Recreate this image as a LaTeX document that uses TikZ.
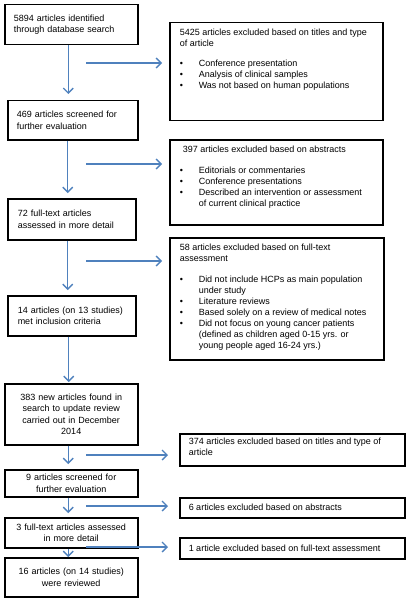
\documentclass[tikz,border=0pt]{standalone}
\usepackage{fontspec}
\setmainfont{Liberation Sans}
\usetikzlibrary{arrows.meta}

\definecolor{flowblue}{RGB}{79,129,189}
\newcommand{\bitem}[1]{\par\hangindent=19pt\hangafter=1\noindent\makebox[19pt][l]{\small\textbullet}#1}

\begin{document}
\begin{tikzpicture}[x=1pt, y=-1pt,
    stage/.style={draw, line width=1.5pt, anchor=north west, inner xsep=9pt, inner ysep=0pt,
      align=left, font=\fontsize{9}{11.5}\selectfont},
    excl/.style={draw, line width=1.5pt, anchor=north west, inner xsep=10pt, inner ysep=6pt,
      font=\fontsize{9}{11}\selectfont},
    flow/.style={draw=flowblue, line width=1.3pt, -{Straight Barb[length=5pt, width=10pt]}}]

        \useasboundingbox (0,0) rectangle (408,599);

        %Search
        \node [stage, minimum width=133pt, minimum height=40pt, text width=115pt] (b1) at (4,4)
          {5894 articles identified\\through database search};
        \node [stage, minimum width=130pt, minimum height=39pt, text width=112pt] (b2) at (7,100)
          {469 articles screened for\\further evaluation};
        \node [stage, minimum width=128pt, minimum height=41pt, text width=108pt, inner xsep=10pt] (b3) at (7,198)
          {72 full-text articles\\assessed in more detail};
        \node [stage, minimum width=128pt, minimum height=40pt, text width=108pt, inner xsep=10pt] (b4) at (7,295)
          {14 articles (on 13 studies)\\met inclusion criteria};

        %Update
        \node [stage, minimum width=133pt, minimum height=61pt, text width=115pt, align=center] (b5) at (4,383)
          {383 new articles found in\\search to update review\\carried out in December\\2014};
        \node [stage, minimum width=133pt, minimum height=27pt, text width=115pt, align=center] (b6) at (4,469)
          {9 articles screened for\\further evaluation};
        \node [stage, minimum width=133pt, minimum height=30pt, text width=115pt, align=center] (b7) at (4,517)
          {3 full-text articles assessed\\in more detail};
        \node [stage, minimum width=133pt, minimum height=39pt, text width=115pt, align=center] (b8) at (4,557)
          {16 articles (on 14 studies)\\were reviewed};

        %Excluded
        \node [excl] (e1) at (169,22) {\parbox[c][86pt][t]{193pt}{\raggedright
          5425 articles excluded based on titles and type\newline of article\par\vspace{9pt}
          \bitem{Conference presentation}
          \bitem{Analysis of clinical samples}
          \bitem{Was not based on human populations}}};
        \node [excl] (e2) at (169,139) {\parbox[c][73pt][t]{193pt}{\raggedright
          \hspace*{3pt}397 articles excluded based on abstracts\par\vspace{10pt}
          \bitem{Editorials or commentaries}
          \bitem{Conference presentations}
          \bitem{Described an intervention or assessment\newline of current clinical practice}}};
        \node [excl] (e3) at (169,237) {\parbox[c][110pt][t]{194pt}{\raggedright
          58 articles excluded based on full-text\newline assessment\par\vspace{10pt}
          \bitem{Did not include HCPs as main population\newline under study}
          \bitem{Literature reviews}
          \bitem{Based solely on a review of medical notes}
          \bitem{Did not focus on young cancer patients\newline (defined as children aged 0-15 yrs. or\newline young people aged 16-24 yrs.)}}};
        \node [excl, inner xsep=9pt, inner ysep=4pt] (e5) at (179,433) {\parbox[c][24pt][t]{207pt}{\raggedright
          374 articles excluded based on titles and type of\newline article}};
        \node [excl, inner xsep=9pt, inner ysep=4pt] (e6) at (179,497) {\parbox[c][12pt][c]{207pt}{\raggedright
          6 articles excluded based on abstracts}};
        \node [excl, inner xsep=9pt, inner ysep=4pt] (e7) at (179,537) {\parbox[c][13pt][c]{207pt}{\raggedright
          1 article excluded based on full-text assessment}};

        %Flow down
        \draw [flow, shorten >=6pt] ([xshift=-3pt]b1.south) -- ([xshift=-3pt]b1.south |- b2.north);
        \draw [flow, shorten >=5pt] ([xshift=-5pt]b2.south) -- ([xshift=-5pt]b2.south |- b3.north);
        \draw [flow, shorten >=5pt] ([xshift=-4pt]b3.south) -- ([xshift=-4pt]b3.south |- b4.north);
        \draw [flow, shorten >=1pt] ([xshift=-3pt]b4.south) -- ([xshift=-3pt]b4.south |- b5.north);
        \draw [flow, shorten >=5pt] ([xshift=-3pt]b5.south) -- ([xshift=-3pt]b5.south |- b6.north);
        \draw [flow, shorten >=4pt] ([xshift=-3pt]b6.south) -- ([xshift=-3pt]b6.south |- b7.north);
        \draw [flow, shorten >=0pt] ([xshift=-3pt]b7.south) -- ([xshift=-3pt]b7.south |- b8.north);

        %Flow out
        \coordinate (s1) at (86,63);
        \coordinate (s2) at (86,164);
        \coordinate (s3) at (86,261);
        \coordinate (s5) at (86,455);
        \coordinate (s6) at (86,506);
        \coordinate (s7) at (86,547);
        \draw [flow, shorten >=7pt]  (s1) -- (s1 -| e1.west);
        \draw [flow, shorten >=7pt]  (s2) -- (s2 -| e2.west);
        \draw [flow, shorten >=7pt]  (s3) -- (s3 -| e3.west);
        \draw [flow, shorten >=11pt] (s5) -- (s5 -| e5.west);
        \draw [flow, shorten >=11pt] (s6) -- (s6 -| e6.west);
        \draw [flow, shorten >=11pt] (s7) -- (s7 -| e7.west);
      \end{tikzpicture}
\end{document}
